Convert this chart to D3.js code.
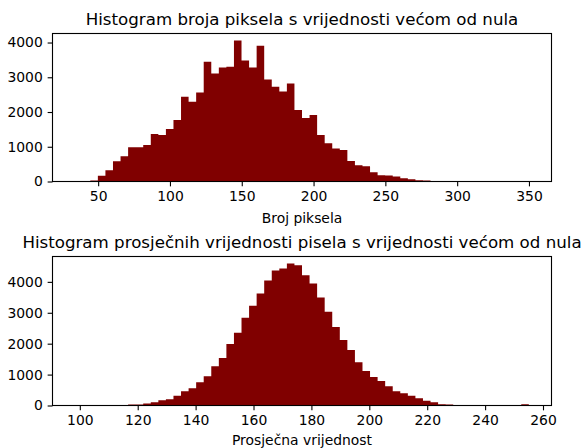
<!DOCTYPE html>
<html><head><meta charset="utf-8">
<script src="https://cdn.jsdelivr.net/npm/d3@7/dist/d3.min.js"></script>
<style>
body{margin:0;background:#fff}
svg{display:block}
text{font-family:"DejaVu Sans",sans-serif;fill:#000}
</style>
</head><body>
<svg id="c" width="585" height="448"></svg>
<script>
// ---------- data ----------
const pixelCountRange = [34.0, 349.9];   // min / max of the data, 60 equal bins
const pixelCounts = [
  1, 3, 29, 163, 325, 584, 727, 986, 986, 1053,
  1368, 1340, 1512, 1770, 2440, 2297, 2565, 3445, 3110, 3282,
  3301, 4057, 3483, 3282, 3904, 2938, 2727, 2593, 2823, 2057,
  1828, 1914, 1340, 1100, 947, 909, 593, 469, 440, 268,
  182, 172, 144, 96, 67, 38, 29, 8, 6, 5,
  3, 2, 2, 1, 1, 1, 0, 0, 0, 1
];
const meanRange = [98.4, 255.1];
const meanCounts = [
  1, 0, 0, 1, 2, 4, 10, 30, 32, 65,
  108, 172, 204, 312, 462, 559, 753, 946, 1269, 1538,
  1989, 2355, 2839, 3226, 3624, 4043, 4366, 4430, 4591, 4538,
  4215, 3946, 3495, 3032, 2538, 2118, 1796, 1398, 1118, 925,
  796, 624, 462, 398, 312, 237, 151, 108, 43, 32,
  8, 5, 3, 2, 1, 1, 0, 1, 2, 43
];
const pixelTicks = [50, 100, 150, 200, 250, 300, 350];
const meanTicks = [100, 120, 140, 160, 180, 200, 220, 240, 260];
const countTicks = [0, 1000, 2000, 3000, 4000];
const titles = [
  "Histogram broja piksela s vrijednosti većom od nula",
  "Histogram prosječnih vrijednosti pisela s vrijednosti većom od nula"
];
const xLabels = ["Broj piksela", "Prosječna vrijednost"];

// ---------- drawing ----------
const svg = d3.select("#c");
const BAR = "#800000";
const TICK = 4.86, PAD = 4.86, LW = 1.11;

function panel(box, range, counts, xTicks, title, xlabel, labelOff) {
  const n = counts.length;
  const w = range[1] - range[0];
  const bw = w / n;
  const x = d3.scaleLinear()
    .domain([range[0] - 0.05 * w, range[1] + 0.05 * w])
    .range([box.left, box.right]);
  const y = d3.scaleLinear()
    .domain([0, d3.max(counts) * 1.05])
    .range([box.bottom, box.top]);

  const g = svg.append("g");
  // one step-shaped area per histogram: each bin contributes its two edges
  const pts = [];
  counts.forEach((c, i) => {
    pts.push([range[0] + i * bw, c]);
    pts.push([range[0] + (i + 1) * bw, c]);
  });
  const area = d3.area()
    .x(d => x(d[0]))
    .y0(y(0))
    .y1(d => y(d[1]));
  g.append("path").attr("d", area(pts)).attr("fill", BAR);

  const xa = g.append("g").attr("transform", `translate(0,${box.bottom})`)
    .call(d3.axisBottom(x).tickValues(xTicks).tickFormat(d3.format("d"))
      .tickSize(TICK).tickPadding(PAD));
  const ya = g.append("g").attr("transform", `translate(${box.left},0)`)
    .call(d3.axisLeft(y).tickValues(countTicks).tickFormat(d3.format("d"))
      .tickSize(TICK).tickPadding(PAD));
  [xa, ya].forEach(a => {
    a.select(".domain").remove();
    a.selectAll("line").attr("stroke", "#000").attr("stroke-width", LW);
    a.selectAll("text").attr("font-size", "13.9px")
      .attr("font-family", '"DejaVu Sans",sans-serif').attr("fill", "#000");
  });

  g.append("rect")
    .attr("x", box.left).attr("y", box.top)
    .attr("width", box.right - box.left).attr("height", box.bottom - box.top)
    .attr("fill", "none").attr("stroke", "#000").attr("stroke-width", LW);

  const cx = (box.left + box.right) / 2;
  g.append("text").attr("x", cx).attr("y", box.top - 8.33)
    .attr("text-anchor", "middle").attr("font-size", "16.67px").text(title);
  g.append("text").attr("x", cx).attr("y", box.bottom + labelOff)
    .attr("text-anchor", "middle").attr("font-size", "13.9px").text(xlabel);
}

panel({left: 52.5, right: 551.5, top: 33.5, bottom: 181.5},
      pixelCountRange, pixelCounts, pixelTicks, titles[0], xLabels[0], 41.3);
panel({left: 52.5, right: 551.5, top: 256.5, bottom: 405.5},
      meanRange, meanCounts, meanTicks, titles[1], xLabels[1], 39.2);
</script>
</body></html>
